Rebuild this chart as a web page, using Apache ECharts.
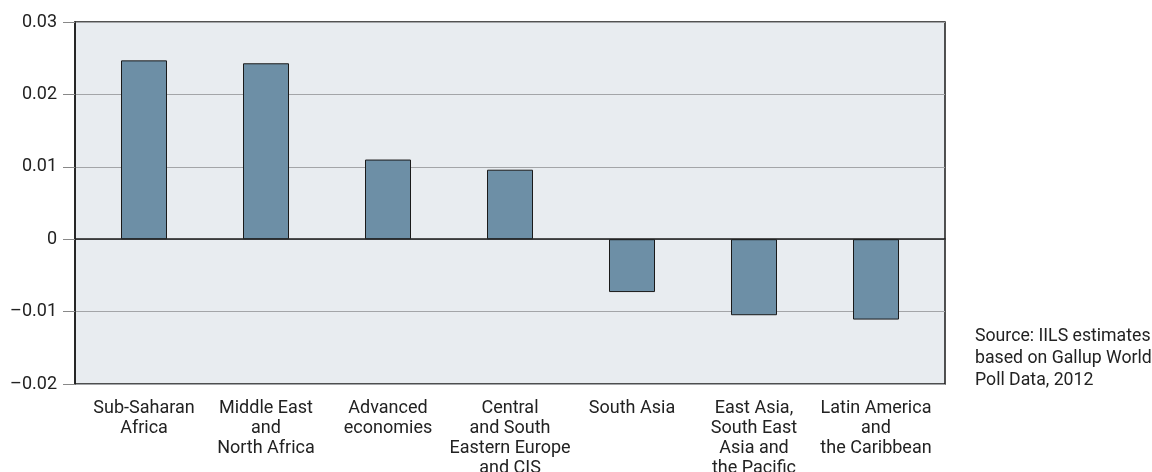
<!DOCTYPE html>
<html><head><meta charset="utf-8">
<script src="https://cdn.jsdelivr.net/npm/echarts@6/dist/echarts.min.js"></script>
<style>html,body{margin:0;padding:0;background:#fff}#c{width:1152px;height:472px}</style>
</head><body><div id="c"></div>
<script>
var categories = ['Sub-Saharan\nAfrica','Middle East\nand\nNorth Africa','Advanced\neconomies','Central\nand South\nEastern Europe\nand CIS','South Asia','East Asia,\nSouth East\nAsia and\nthe Pacific','Latin America\nand\nthe Caribbean'];
var values = [0.0247, 0.0243, 0.0110, 0.0096, -0.0073, -0.0105, -0.0111];
var yTicks = {min: -0.02, max: 0.03, interval: 0.01};
var sourceText = 'Source: IILS estimates\nbased on Gallup World\nPoll Data, 2012';

var font = 'Roboto, Liberation Sans, Arial, sans-serif';
var chart = echarts.init(document.getElementById('c'));
function fmt(v){ if (Math.abs(v) < 1e-9) return '0'; var s = Math.abs(v).toFixed(2); return (v < 0 ? '\u2013' : '') + s; }
chart.setOption({
  animation: false,
  grid: [
    {left: 75, right: 207, top: 22, bottom: 88, outerBoundsMode: 'none', containLabel: false, show: true, backgroundColor: '#e8ecf0', borderColor: '#1a1a1a', borderWidth: 1.5},
    {left: 83, right: 215, top: 22, bottom: 88, outerBoundsMode: 'none', containLabel: false}
  ],
  xAxis: [
    {gridIndex: 0, type: 'value', min: 0, max: 1, axisLine: {show: true, onZero: true, lineStyle: {color: '#1a1a1a', width: 1.5}}, axisTick: {show: false}, axisLabel: {show: false}, splitLine: {show: false}},
    {gridIndex: 1, type: 'category', data: categories, axisLine: {show: false}, axisTick: {show: false},
     axisLabel: {interval: 0, margin: 14, color: '#222', fontFamily: font, fontSize: 18, lineHeight: 20, verticalAlign: 'top', hideOverlap: false}}
  ],
  yAxis: [
    {gridIndex: 0, type: 'value', min: yTicks.min, max: yTicks.max, interval: yTicks.interval,
     axisLine: {show: true, onZero: false, lineStyle: {color: '#1a1a1a', width: 1.5}},
     axisTick: {show: true, length: 12, lineStyle: {color: '#888', width: 1}},
     axisLabel: {color: '#222', fontFamily: font, fontSize: 18, margin: 18, formatter: fmt},
     splitLine: {show: true, lineStyle: {color: '#a3a5a8', width: 1}}},
    {gridIndex: 1, type: 'value', min: yTicks.min, max: yTicks.max, interval: yTicks.interval, show: false, splitLine: {show: false}}
  ],
  series: [
    {type: 'bar', xAxisIndex: 1, yAxisIndex: 1, data: values, barWidth: 46,
     itemStyle: {color: '#6d8fa6', borderColor: '#1a1a1a', borderWidth: 1}}
  ],
  graphic: [
    {type: 'text', left: 975, top: 326, style: {text: sourceText, fill: '#222', font: '17.7px ' + font, lineHeight: 21.7}}
  ]
});
</script></body></html>
